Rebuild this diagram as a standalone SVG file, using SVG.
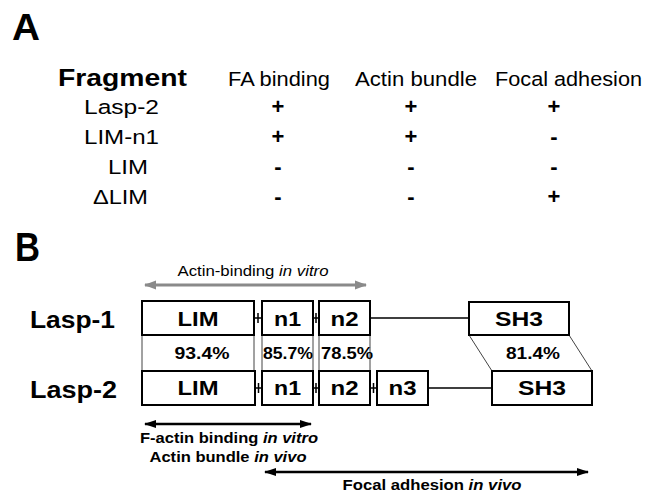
<svg xmlns="http://www.w3.org/2000/svg" width="653" height="493" viewBox="0 0 653 493">
<defs>
<style>
text{font-family:"Liberation Sans",Arial,sans-serif;fill:#000}
.b{font-weight:bold}
.i{font-style:italic}
.box{fill:#fff;stroke:#000;stroke-width:2}
.ln{stroke:#000;stroke-width:1.5;fill:none}
.thin{stroke:#444;stroke-width:1;fill:none}
.arr{stroke:#000;stroke-width:2.5;fill:none}
.garr{stroke:#8a8a8a;stroke-width:3;fill:none}
</style>
<marker id="ah" markerUnits="userSpaceOnUse" markerWidth="14" markerHeight="10" refX="11" refY="5" orient="auto-start-reverse">
<path d="M0,1 L12,5 L0,9 Z" fill="#000"/>
</marker>
<marker id="gah" markerUnits="userSpaceOnUse" markerWidth="14" markerHeight="10" refX="11" refY="5" orient="auto-start-reverse">
<path d="M0,0.5 L12,5 L0,9.5 Z" fill="#8a8a8a"/>
</marker>
</defs>
<rect width="653" height="493" fill="#fff"/>

<!-- Panel A -->
<g id="panelA">
<text x="12" y="40" class="b" font-size="36" textLength="28" lengthAdjust="spacingAndGlyphs">A</text>
<text x="58" y="86" class="b" font-size="24" textLength="129" lengthAdjust="spacingAndGlyphs">Fragment</text>
<text x="228" y="86" font-size="20.5" textLength="102" lengthAdjust="spacingAndGlyphs">FA binding</text>
<text x="355" y="86" font-size="20.5" textLength="122" lengthAdjust="spacingAndGlyphs">Actin bundle</text>
<text x="495" y="86" font-size="20.5" textLength="147" lengthAdjust="spacingAndGlyphs">Focal adhesion</text>

<text x="84" y="114" font-size="20.5" textLength="75" lengthAdjust="spacingAndGlyphs">Lasp-2</text>
<text x="84" y="144" font-size="20.5" textLength="75" lengthAdjust="spacingAndGlyphs">LIM-n1</text>
<text x="108" y="174" font-size="20.5" textLength="40" lengthAdjust="spacingAndGlyphs">LIM</text>
<text x="93" y="204" font-size="20.5" textLength="55" lengthAdjust="spacingAndGlyphs">ΔLIM</text>

<g class="b" font-size="22" text-anchor="middle">
<text x="278" y="114">+</text><text x="411" y="114">+</text><text x="554" y="114">+</text>
<text x="278" y="144">+</text><text x="411" y="144">+</text><text x="554" y="144">-</text>
<text x="278" y="174">-</text><text x="411" y="174">-</text><text x="554" y="174">-</text>
<text x="278" y="204">-</text><text x="411" y="204">-</text><text x="554" y="204">+</text>
</g>
</g>

<!-- Panel B -->
<text x="15" y="261" class="b" font-size="40" textLength="25" lengthAdjust="spacingAndGlyphs">B</text>
<text x="30" y="328" class="b" font-size="23" textLength="85" lengthAdjust="spacingAndGlyphs">Lasp-1</text>
<text x="30" y="398" class="b" font-size="23" textLength="87" lengthAdjust="spacingAndGlyphs">Lasp-2</text>

<g id="connectors">
<!-- Lasp-1 -->
<path class="ln" d="M254,318 H262 M258,313 V323 M313,318 H319 M316,313 V323 M370,318 H469"/>
<!-- Lasp-2 -->
<path class="ln" d="M255,388 H262 M258.5,383 V393 M313,388 H319 M316,383 V393 M370,388 H377 M373.5,383 V393 M428,388 H492"/>
<!-- identity region -->
<path class="thin" d="M142,335 V371 M254,335 V371 M262,335 V371 M313,335 V371 M319,335 V371 M370,335 V371 M469,335 L492,371 M569,335 L592,371"/>
<!-- range arrows -->
<path class="garr" d="M145,285 H366" marker-start="url(#gah)" marker-end="url(#gah)"/>
<path class="arr" d="M145,424 H311" marker-start="url(#ah)" marker-end="url(#ah)"/>
<path class="arr" d="M265,472 H588" marker-start="url(#ah)" marker-end="url(#ah)"/>
</g>

<g id="lasp1-LIM"><rect class="box" x="142" y="301" width="112" height="34"/><text x="198" y="326" class="b" font-size="21" text-anchor="middle" textLength="41" lengthAdjust="spacingAndGlyphs">LIM</text></g>
<g id="lasp1-n1"><rect class="box" x="262" y="301" width="51" height="34"/><text x="287.5" y="326" class="b" font-size="21" text-anchor="middle" textLength="27" lengthAdjust="spacingAndGlyphs">n1</text></g>
<g id="lasp1-n2"><rect class="box" x="319" y="301" width="51" height="34"/><text x="344.5" y="326" class="b" font-size="21" text-anchor="middle" textLength="28" lengthAdjust="spacingAndGlyphs">n2</text></g>
<g id="lasp1-SH3"><rect class="box" x="469" y="302" width="100" height="33"/><text x="519" y="326" class="b" font-size="21" text-anchor="middle" textLength="48" lengthAdjust="spacingAndGlyphs">SH3</text></g>

<g id="identity" class="b" font-size="17" text-anchor="middle">
<text x="202" y="359" textLength="55" lengthAdjust="spacingAndGlyphs">93.4%</text>
<text x="288" y="359" textLength="50" lengthAdjust="spacingAndGlyphs">85.7%</text>
<text x="347" y="359" textLength="52" lengthAdjust="spacingAndGlyphs">78.5%</text>
<text x="533" y="359" textLength="54" lengthAdjust="spacingAndGlyphs">81.4%</text>
</g>

<g id="lasp2-LIM"><rect class="box" x="142" y="371" width="113" height="34"/><text x="198" y="395" class="b" font-size="21" text-anchor="middle" textLength="41" lengthAdjust="spacingAndGlyphs">LIM</text></g>
<g id="lasp2-n1"><rect class="box" x="262" y="371" width="51" height="34"/><text x="287.5" y="395" class="b" font-size="21" text-anchor="middle" textLength="27" lengthAdjust="spacingAndGlyphs">n1</text></g>
<g id="lasp2-n2"><rect class="box" x="319" y="371" width="51" height="34"/><text x="344.5" y="395" class="b" font-size="21" text-anchor="middle" textLength="28" lengthAdjust="spacingAndGlyphs">n2</text></g>
<g id="lasp2-n3"><rect class="box" x="377" y="371" width="51" height="34"/><text x="402.5" y="395" class="b" font-size="21" text-anchor="middle" textLength="28" lengthAdjust="spacingAndGlyphs">n3</text></g>
<g id="lasp2-SH3"><rect class="box" x="492" y="371" width="100" height="34"/><text x="542" y="395" class="b" font-size="21" text-anchor="middle" textLength="48" lengthAdjust="spacingAndGlyphs">SH3</text></g>

<g id="labels">
<text x="253" y="276" font-size="15" text-anchor="middle" fill="#222" textLength="151" lengthAdjust="spacingAndGlyphs">Actin-binding <tspan class="i">in vitro</tspan></text>
<text x="229" y="443" class="b" font-size="15" text-anchor="middle" textLength="178" lengthAdjust="spacingAndGlyphs">F-actin binding <tspan class="i">in vitro</tspan></text>
<text x="228" y="462" class="b" font-size="15" text-anchor="middle" textLength="157" lengthAdjust="spacingAndGlyphs">Actin bundle <tspan class="i">in vivo</tspan></text>
<text x="432" y="490" class="b" font-size="15" text-anchor="middle" textLength="179" lengthAdjust="spacingAndGlyphs">Focal adhesion <tspan class="i">in vivo</tspan></text>
</g>
</svg>
